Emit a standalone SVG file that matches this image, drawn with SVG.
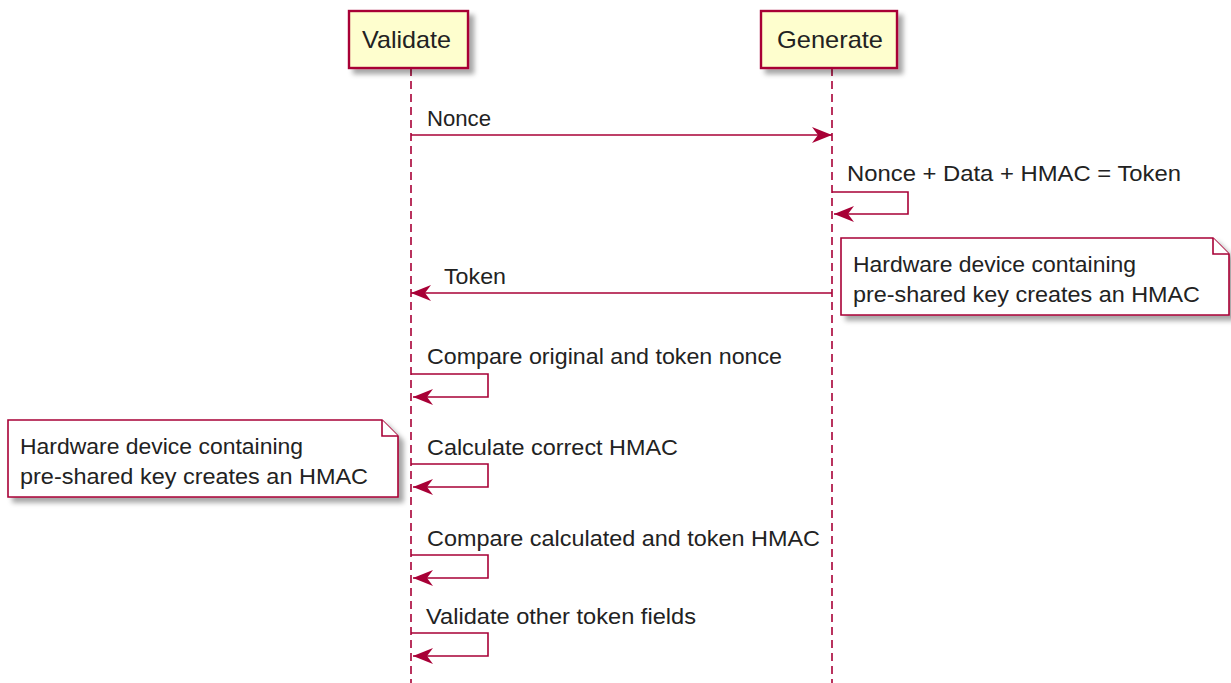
<svg xmlns="http://www.w3.org/2000/svg" width="1231" height="683" viewBox="0 0 1231 683">
<defs>
<filter id="sh" x="-10%" y="-10%" width="130%" height="140%">
<feGaussianBlur in="SourceAlpha" stdDeviation="2.5"/>
<feOffset dx="5" dy="5" result="b"/>
<feFlood flood-color="#000" flood-opacity="0.35"/>
<feComposite in2="b" operator="in"/>
<feMerge><feMergeNode/><feMergeNode in="SourceGraphic"/></feMerge>
</filter>
<marker id="ah" viewBox="0 0 20 20" markerWidth="20" markerHeight="20" refX="20" refY="10" orient="auto" markerUnits="userSpaceOnUse">
<path d="M0,2 L20,10 L0,18 L6,10 Z" fill="#A80036"/>
</marker>
</defs>
<style>
.life{stroke:#A80036;stroke-width:1.6;stroke-dasharray:8,5;fill:none}
.part{fill:#FEFECE;stroke:#A80036;stroke-width:2.4}
.ptxt{font-family:"Liberation Sans",Arial,sans-serif;font-size:24px;fill:#222}
.msg{stroke:#A80036;stroke-width:1.6;fill:none}
.mtxt{font-family:"Liberation Sans",Arial,sans-serif;font-size:22px;fill:#222}
.note{fill:#FFFFFF;stroke:#A80036;stroke-width:1.6}
</style>
<rect width="1231" height="683" fill="#fff"/>
<g id="lifelines">
<line class="life" x1="411" y1="68" x2="411" y2="683"/>
<line class="life" x1="832" y1="68" x2="832" y2="683"/>
</g>
<g id="validate">
<rect class="part" x="349" y="11" width="119" height="57" filter="url(#sh)"/>
<text class="ptxt" x="362" y="48" textLength="89" lengthAdjust="spacingAndGlyphs">Validate</text>
</g>
<g id="generate">
<rect class="part" x="761" y="11" width="136" height="57" filter="url(#sh)"/>
<text class="ptxt" x="777" y="48" textLength="106" lengthAdjust="spacingAndGlyphs">Generate</text>
</g>
<g id="connectors">
<line class="msg" x1="411" y1="135" x2="832" y2="135" marker-end="url(#ah)"/>
<text class="mtxt" x="427" y="126" textLength="64" lengthAdjust="spacingAndGlyphs">Nonce</text>
<polyline class="msg" points="832,192 908,192 908,214 834,214" marker-end="url(#ah)"/>
<text class="mtxt" x="847" y="181" textLength="334" lengthAdjust="spacingAndGlyphs">Nonce + Data + HMAC = Token</text>
<line class="msg" x1="832" y1="293" x2="411" y2="293" marker-end="url(#ah)"/>
<text class="mtxt" x="444" y="284" textLength="62" lengthAdjust="spacingAndGlyphs">Token</text>
<polyline class="msg" points="411,374 488,374 488,397 413,397" marker-end="url(#ah)"/>
<text class="mtxt" x="427" y="364" textLength="355" lengthAdjust="spacingAndGlyphs">Compare original and token nonce</text>
<polyline class="msg" points="411,464 488,464 488,487 413,487" marker-end="url(#ah)"/>
<text class="mtxt" x="427" y="455" textLength="251" lengthAdjust="spacingAndGlyphs">Calculate correct HMAC</text>
<polyline class="msg" points="411,555 488,555 488,578 413,578" marker-end="url(#ah)"/>
<text class="mtxt" x="427" y="546" textLength="393" lengthAdjust="spacingAndGlyphs">Compare calculated and token HMAC</text>
<polyline class="msg" points="411,633 488,633 488,656 413,656" marker-end="url(#ah)"/>
<text class="mtxt" x="426" y="624" textLength="270" lengthAdjust="spacingAndGlyphs">Validate other token fields</text>
</g>
<g id="note-right">
<path class="note" d="M841,238 H1213 L1229,254 V315 H841 Z" filter="url(#sh)"/>
<path class="note" d="M1213,238 V254 H1229" fill="none"/>
<text class="mtxt" x="853" y="272" textLength="283" lengthAdjust="spacingAndGlyphs">Hardware device containing</text>
<text class="mtxt" x="853" y="302" textLength="347" lengthAdjust="spacingAndGlyphs">pre-shared key creates an HMAC</text>
</g>
<g id="note-left">
<path class="note" d="M8,420 H382 L398,436 V497 H8 Z" filter="url(#sh)"/>
<path class="note" d="M382,420 V436 H398" fill="none"/>
<text class="mtxt" x="20" y="454" textLength="283" lengthAdjust="spacingAndGlyphs">Hardware device containing</text>
<text class="mtxt" x="20" y="484" textLength="348" lengthAdjust="spacingAndGlyphs">pre-shared key creates an HMAC</text>
</g>
</svg>
